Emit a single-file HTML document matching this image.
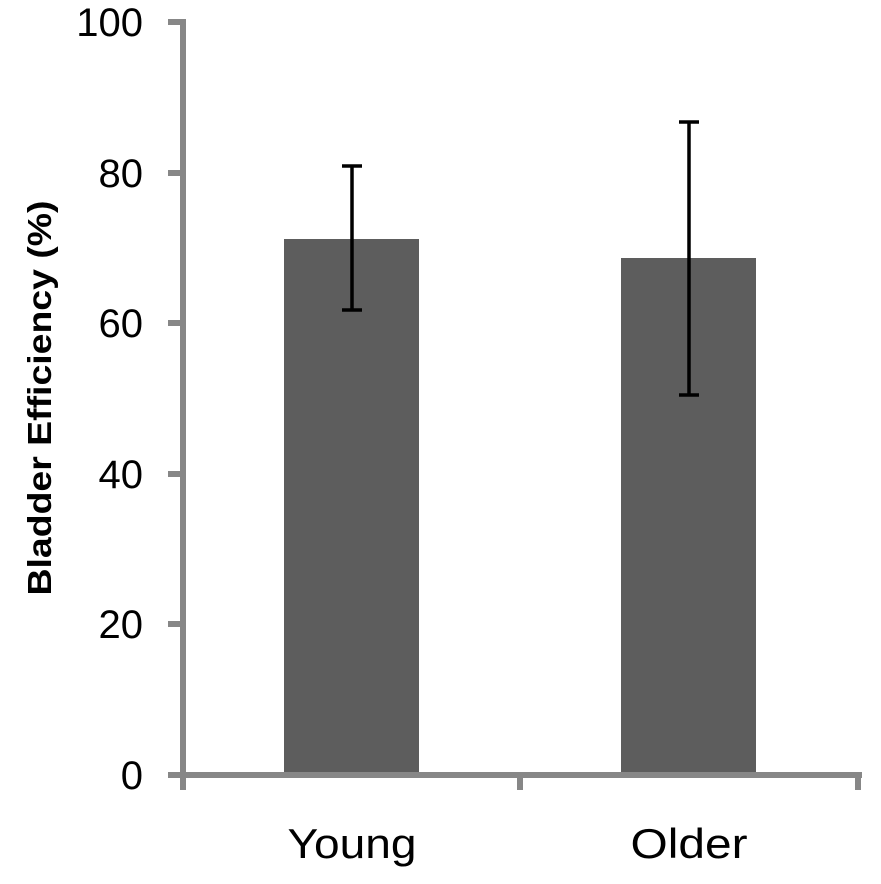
<!DOCTYPE html>
<html><head><style>body{margin:0;background:#fff}</style></head><body>
<svg width="881" height="879" xmlns="http://www.w3.org/2000/svg" font-family="Liberation Sans, sans-serif">
<rect x="284" y="239" width="135" height="536" fill="#5d5d5d"/>
<rect x="621" y="258" width="135" height="517" fill="#5d5d5d"/>
<g stroke="#878787" stroke-width="6">
<line x1="183" y1="19" x2="183" y2="778"/>
<line x1="168" y1="775" x2="862" y2="775"/>
<line x1="168" y1="22" x2="183" y2="22"/>
<line x1="168" y1="173" x2="183" y2="173"/>
<line x1="168" y1="323" x2="183" y2="323"/>
<line x1="168" y1="474" x2="183" y2="474"/>
<line x1="168" y1="624" x2="183" y2="624"/>
<line x1="183" y1="775" x2="183" y2="790"/>
<line x1="520" y1="775" x2="520" y2="790"/>
<line x1="858" y1="775" x2="858" y2="790"/>
</g>
<g stroke="#000" stroke-width="3.5">
<line x1="352" y1="166" x2="352" y2="310"/><line x1="342" y1="166" x2="362" y2="166"/><line x1="342" y1="310" x2="362" y2="310"/>
<line x1="689" y1="122" x2="689" y2="395"/><line x1="679" y1="122" x2="699" y2="122"/><line x1="679" y1="395" x2="699" y2="395"/>
</g>
<g font-size="40" text-anchor="end" fill="#000">
<text x="143" y="36">100</text><text x="143" y="187">80</text><text x="143" y="337">60</text>
<text x="143" y="488">40</text><text x="143" y="638">20</text><text x="143" y="789">0</text>
</g>
<g font-size="42" text-anchor="middle">
<text x="352" y="858" textLength="129" lengthAdjust="spacingAndGlyphs">Young</text><text x="689" y="858" textLength="117" lengthAdjust="spacingAndGlyphs">Older</text>
</g>
<text transform="translate(51,398) rotate(-90)" font-size="33" font-weight="bold" text-anchor="middle" textLength="395" lengthAdjust="spacingAndGlyphs">Bladder Efficiency (%)</text>
</svg>
</body></html>
